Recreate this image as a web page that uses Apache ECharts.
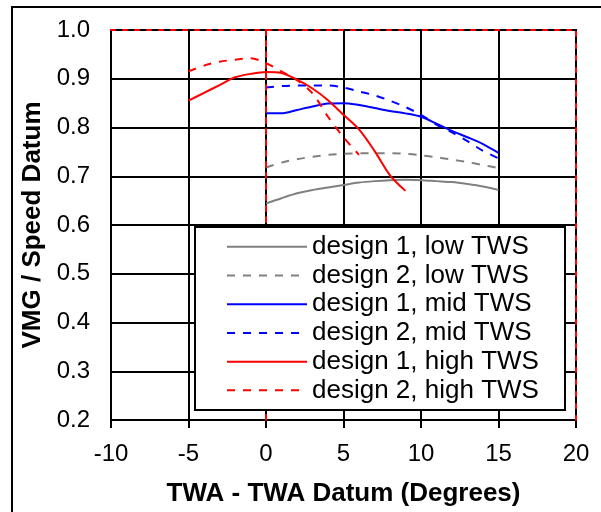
<!DOCTYPE html>
<html>
<head>
<meta charset="utf-8">
<script src="https://cdn.jsdelivr.net/npm/echarts@6/dist/echarts.min.js"></script>
<style>
  html, body { margin: 0; padding: 0; background: #fff; }
  #chart { width: 601px; height: 512px; }
</style>
</head>
<body>
<div id="chart"></div>
<script>
// TWA offsets (degrees from datum) for each curve family
const twaLowMid = [0, 1, 2, 3, 4, 5, 6, 7, 8, 9, 10, 11, 12, 13, 14, 15];
const twaHigh1 = [-5, -4, -3, -2, -1, 0, 1, 2, 3, 4, 5, 6, 7, 8, 9];
const twaHigh2 = [-5, -4, -3, -2, -1, 0, 1, 2, 3, 4, 5, 6];

// VMG / speed datum ratios
const lowDesign1 = [0.644, 0.655, 0.665, 0.672, 0.677, 0.682, 0.687, 0.690, 0.692, 0.693, 0.692, 0.690, 0.688, 0.684, 0.679, 0.672];
const lowDesign2 = [0.718, 0.728, 0.735, 0.740, 0.744, 0.746, 0.747, 0.747, 0.747, 0.746, 0.743, 0.739, 0.734, 0.729, 0.723, 0.717];
const midDesign1 = [0.829, 0.829, 0.836, 0.843, 0.849, 0.850, 0.846, 0.840, 0.834, 0.829, 0.822, 0.808, 0.793, 0.780, 0.766, 0.748];
const midDesign2 = [0.882, 0.885, 0.886, 0.886, 0.886, 0.882, 0.874, 0.866, 0.855, 0.842, 0.826, 0.806, 0.790, 0.772, 0.752, 0.737];
const highDesign1 = [0.855, 0.871, 0.887, 0.903, 0.910, 0.914, 0.912, 0.898, 0.880, 0.856, 0.826, 0.796, 0.752, 0.702, 0.670];
const highDesign2 = [0.915, 0.927, 0.935, 0.939, 0.942, 0.932, 0.915, 0.897, 0.870, 0.822, 0.780, 0.744];

const seriesNames = [
  'design 1, low TWS', 'design 2, low TWS',
  'design 1, mid TWS', 'design 2, mid TWS',
  'design 1, high TWS', 'design 2, high TWS'
];

const xTicks = { min: -10, max: 20, step: 5 };
const yTicks = { min: 0.2, max: 1.0, step: 0.1 };

const FONT = 'Liberation Sans';

function pairs(xs, ys) {
  return xs.map((x, i) => [x, ys[i]]);
}

function curve(name, xs, ys, color, dashed) {
  return {
    name: name,
    type: 'line',
    xAxisIndex: 0,
    yAxisIndex: 0,
    data: pairs(xs, ys),
    symbol: 'none',
    smooth: 0.3,
    z: 2,
    lineStyle: { color: color, width: 2, type: dashed ? [8, 8] : 'solid' },
    itemStyle: { color: color }
  };
}

const redDash = (dash) => ({ show: true, lineStyle: { color: '#ff0000', width: 2, type: dash } });

const chart = echarts.init(document.getElementById('chart'), null, { renderer: 'canvas' });

chart.setOption({
  backgroundColor: '#ffffff',
  animation: false,
  grid: {
    left: 111, top: 30, width: 465, height: 390,
    show: true, backgroundColor: '#ffffff',
    borderColor: '#000000', borderWidth: 2
  },
  xAxis: [
    {
      type: 'value', position: 'bottom',
      min: xTicks.min, max: xTicks.max, interval: xTicks.step,
      axisLine: { show: true, onZero: false, lineStyle: { color: '#000', width: 2 } },
      axisTick: { show: true, inside: false, length: 8, lineStyle: { color: '#000', width: 2 } },
      splitLine: { show: true, lineStyle: { color: '#000', width: 2 } },
      axisLabel: { color: '#000', fontFamily: FONT, fontSize: 24, margin: 22 },
      name: 'TWA - TWA Datum (Degrees)',
      nameLocation: 'middle', nameGap: 61,
      nameTextStyle: { color: '#000', fontFamily: FONT, fontSize: 26, fontWeight: 'bold' }
    },
    {
      type: 'value', position: 'top', z: 3,
      min: xTicks.min, max: xTicks.max, interval: xTicks.step,
      axisLine: redDash([4, 8]),
      axisTick: { show: false }, axisLabel: { show: false }, splitLine: { show: false }
    }
  ],
  yAxis: [
    {
      type: 'value', position: 'left',
      min: yTicks.min, max: yTicks.max, interval: yTicks.step,
      axisLine: { show: false },
      axisTick: { show: false },
      splitLine: { show: true, lineStyle: { color: '#000', width: 2 } },
      axisLabel: {
        color: '#000', fontFamily: FONT, fontSize: 24, margin: 21,
        formatter: (v) => v.toFixed(1)
      },
      name: 'VMG / Speed Datum',
      nameLocation: 'middle', nameGap: 64,
      nameTextStyle: { color: '#000', fontFamily: FONT, fontSize: 26, fontWeight: 'bold' }
    },
    {
      type: 'value', position: 'left', z: 3,
      min: yTicks.min, max: yTicks.max, interval: yTicks.step,
      axisLine: redDash([5, 6]),
      axisTick: { show: false }, axisLabel: { show: false }, splitLine: { show: false }
    },
    {
      type: 'value', position: 'right', z: 3,
      min: yTicks.min, max: yTicks.max, interval: yTicks.step,
      axisLine: redDash([4, 8]),
      axisTick: { show: false }, axisLabel: { show: false }, splitLine: { show: false }
    }
  ],
  legend: {
    orient: 'vertical',
    left: 226, top: 233,
    padding: 0,
    z: 20,
    itemWidth: 80, itemHeight: 14,
    itemGap: 1,
    itemStyle: { opacity: 0 },
    lineStyle: { width: 2 },
    data: seriesNames,
    textStyle: { color: '#000', fontFamily: FONT, fontSize: 26, lineHeight: 27.7 }
  },
  graphic: [
    {
      type: 'rect', z: -10, silent: true,
      shape: { x: 12, y: 7, width: 800, height: 800 },
      style: { fill: 'none', stroke: '#000', lineWidth: 2 }
    },
    {
      type: 'rect', z: 10, silent: true,
      shape: { x: 195, y: 227, width: 370, height: 183 },
      style: { fill: '#ffffff', stroke: '#000', lineWidth: 2 }
    }
  ],
  series: [
    curve(seriesNames[0], twaLowMid, lowDesign1, '#808080', false),
    curve(seriesNames[1], twaLowMid, lowDesign2, '#808080', true),
    curve(seriesNames[2], twaLowMid, midDesign1, '#0000ff', false),
    curve(seriesNames[3], twaLowMid, midDesign2, '#0000ff', true),
    curve(seriesNames[4], twaHigh1, highDesign1, '#ff0000', false),
    curve(seriesNames[5], twaHigh2, highDesign2, '#ff0000', true)
  ]
});
</script>
</body>
</html>
